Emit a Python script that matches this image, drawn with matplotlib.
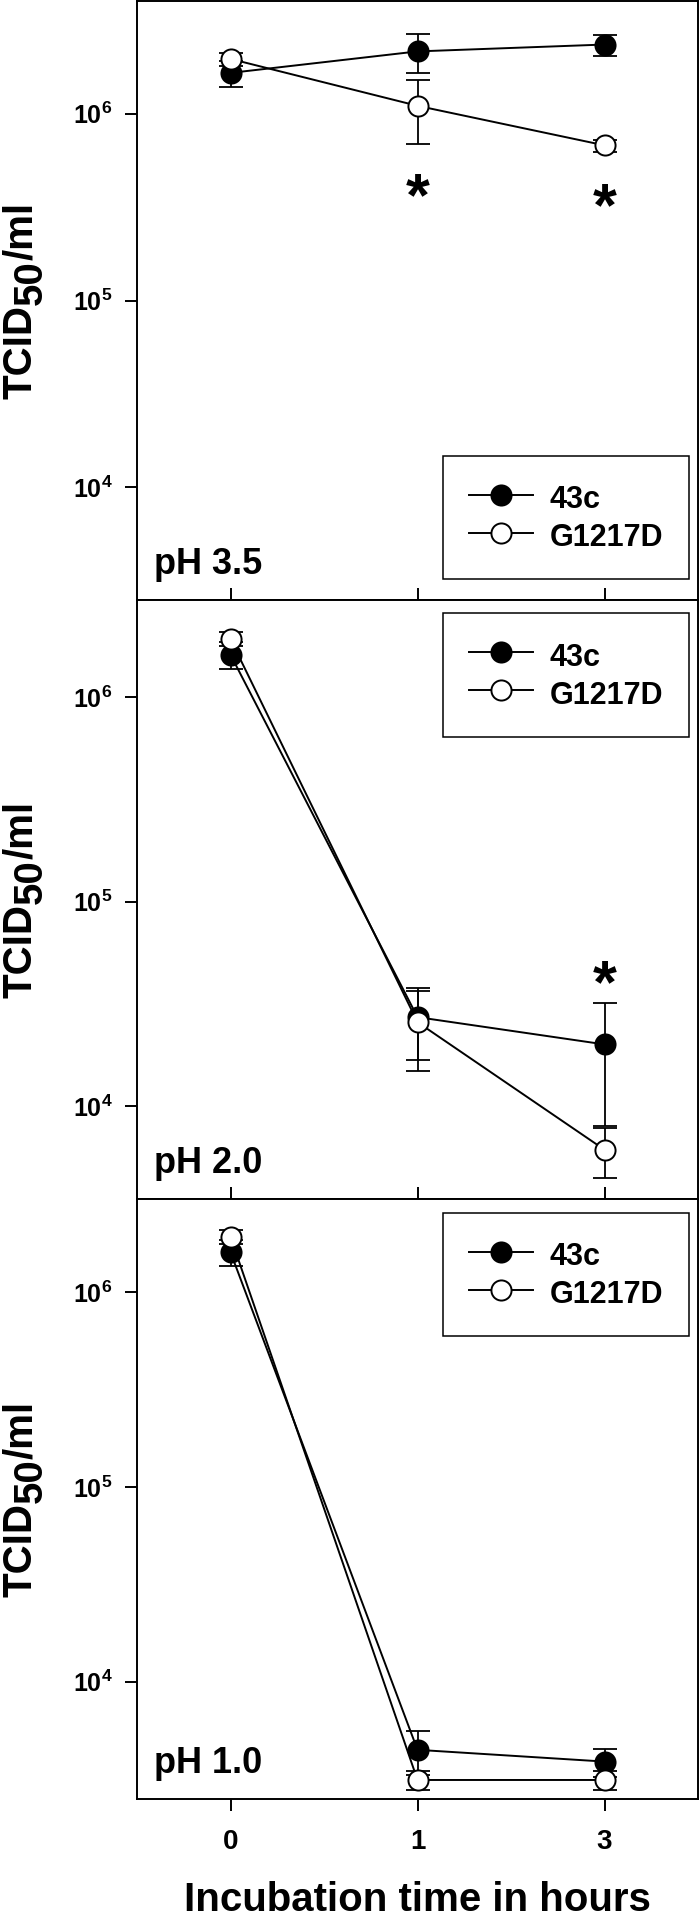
import numpy as np
import matplotlib
matplotlib.use('Agg')
import matplotlib.pyplot as plt
from matplotlib.ticker import NullLocator

plt.rcParams['font.family'] = ['Liberation Sans', 'DejaVu Sans']
plt.rcParams['font.weight'] = 'bold'
plt.rcParams['mathtext.fontset'] = 'custom'
plt.rcParams['mathtext.rm'] = 'Liberation Sans:bold'
plt.rcParams['mathtext.bf'] = 'Liberation Sans:bold'
plt.rcParams['mathtext.it'] = 'Liberation Sans:bold'

# incubation times (categorical, evenly spaced)
hours = ['0', '1', '3']
strains = ['43c', 'G1217D']
ph_labels = ['pH 3.5', 'pH 2.0', 'pH 1.0']

# TCID50/ml, mean and error per time point
c43_ph35 = [1.65e6, 2.15e6, 2.34e6]
c43_ph35_err = [0.27e6, 0.50e6, 0.30e6]
g1217d_ph35 = [1.96e6, 1.10e6, 6.76e5]
g1217d_ph35_err = [0.16e6, 0.41e6, 0.05e6]

c43_ph20 = [1.62e6, 2.72e4, 2.0e4]
c43_ph20_err = [0.24e6, 1.05e4, 1.2e4]
g1217d_ph20 = [1.93e6, 2.57e4, 6.1e3]
g1217d_ph20_err = [0.15e6, 1.08e4, 1.65e3]

c43_ph10 = [1.60e6, 4.47e3, 3.89e3]
c43_ph10_err = [0.24e6, 1.14e3, 0.63e3]
g1217d_ph10 = [1.92e6, 3.13e3, 3.13e3]
g1217d_ph10_err = [0.16e6, 0.35e3, 0.35e3]

# significance marks: (time index, height)
stars_ph35 = [(1, 4.3e5), (2, 3.8e5)]
stars_ph20 = [(2, 4.7e4)]
stars_ph10 = []

ylims = [(2.5e3, 4.0e6), (3.5e3, 3.0e6), (2.5e3, 3.0e6)]
ytick_vals = [1e4, 1e5, 1e6]
ytick_labels = [r'$\mathbf{10^{4}}$', r'$\mathbf{10^{5}}$', r'$\mathbf{10^{6}}$']

panels = [
    (c43_ph35, c43_ph35_err, g1217d_ph35, g1217d_ph35_err, stars_ph35),
    (c43_ph20, c43_ph20_err, g1217d_ph20, g1217d_ph20_err, stars_ph20),
    (c43_ph10, c43_ph10_err, g1217d_ph10, g1217d_ph10_err, stars_ph10),
]

W, H = 700, 1917
fig = plt.figure(figsize=(W / 100, H / 100), dpi=100)

# panel boxes in pixels from top
left_px, right_px = 137, 698
tops = [1, 600, 1199]
bottoms = [600, 1199, 1799]
legend_anchor = [('lower right', (0.984, 0.035)),
                 ('upper right', (0.984, 0.978)),
                 ('upper right', (0.984, 0.977))]

x = np.arange(len(hours))
axes = []
for i, (c, ce, g, ge, stars) in enumerate(panels):
    ax = fig.add_axes([left_px / W, 1 - bottoms[i] / H,
                       (right_px - left_px) / W, (bottoms[i] - tops[i]) / H])
    axes.append(ax)
    ax.set_yscale('log')

    ax.errorbar(x, c, yerr=ce, fmt='none', ecolor='black', elinewidth=1.3,
                capsize=8.5, capthick=1.3, zorder=2)
    l1, = ax.plot(x, c, '-o', color='black', mfc='black', mec='black',
                  ms=14.5, mew=1.4, lw=1.4, zorder=3)
    ax.errorbar(x, g, yerr=ge, fmt='none', ecolor='black', elinewidth=1.3,
                capsize=8.5, capthick=1.3, zorder=4)
    l2, = ax.plot(x, g, '-o', color='black', mfc='white', mec='black',
                  ms=14.5, mew=1.4, lw=1.4, zorder=5)

    for xi, yv in stars:
        ax.annotate('*', xy=(xi, yv), xytext=(0, -24), textcoords='offset points',
                    ha='center', va='baseline', fontsize=44, fontweight='bold')

    ax.set_xlim(-0.5, 2.5)
    ax.set_ylim(*ylims[i])
    ax.set_yticks(ytick_vals)
    ax.set_yticklabels(ytick_labels)
    ax.yaxis.set_minor_locator(NullLocator())
    ax.tick_params(axis='y', direction='out', length=8.6, width=1.4,
                   labelsize=18, pad=9)
    ax.set_xticks(x)
    if i < 2:
        ax.tick_params(axis='x', direction='in', length=8.6, width=1.4,
                       labelbottom=False)
    else:
        ax.set_xticklabels(hours)
        ax.tick_params(axis='x', direction='out', length=8.6, width=1.4,
                       labelsize=20, pad=13)
    for sp in ax.spines.values():
        sp.set_linewidth(1.4)

    ax.text(0.030, 0.044, ph_labels[i], transform=ax.transAxes, ha='left',
            va='baseline', fontsize=26, fontweight='bold')

    loc, anchor = legend_anchor[i]
    leg = ax.legend([l1, l2], strains, loc=loc, bbox_to_anchor=anchor,
                    borderaxespad=0, fontsize=22, frameon=True, fancybox=False,
                    framealpha=1, edgecolor='black', borderpad=0.85,
                    labelspacing=0.15, handlelength=2.1, handleheight=1.25,
                    handletextpad=0.55)
    leg.get_frame().set_linewidth(1.1)

# y axis label: TCID with a full size, lowered "50"
renderer = fig.canvas.get_renderer()
pieces = [('TCID', 0), ('50', 10), ('/ml', 0)]
lab_x = 21
for i, ax in enumerate(axes):
    yc = (tops[i] + bottoms[i]) / 2
    texts = []
    total = 0
    for s, dx in pieces:
        t = fig.text(0, 0, s, rotation=90, rotation_mode='anchor', ha='left',
                     va='center', fontsize=29, fontweight='bold')
        ln = t.get_window_extent(renderer).height
        texts.append((t, dx, ln))
        total += ln
    pos = yc + total / 2   # pixel from top where text starts (bottom end)
    for t, dx, ln in texts:
        t.set_position(((lab_x + dx) / W, 1 - pos / H))
        pos -= ln

fig.text((left_px + right_px) / 2 / W, 6 / H, 'Incubation time in hours',
         ha='center', va='baseline', fontsize=29, fontweight='bold')

fig.savefig('out.png', dpi=100)
